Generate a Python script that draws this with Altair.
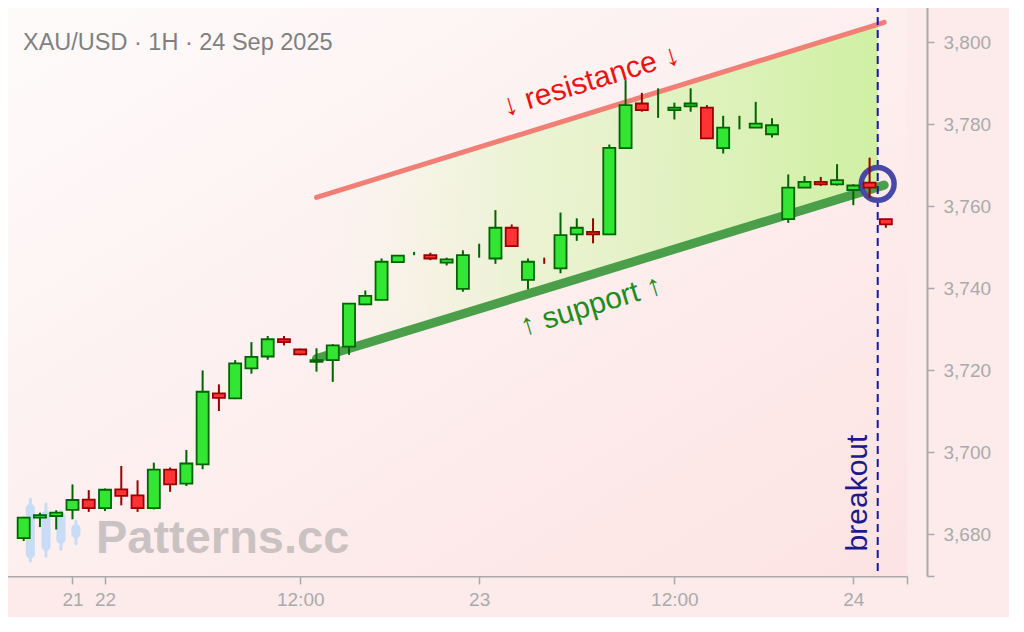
import altair as alt
import pandas as pd

# ---------------- data ----------------
idx = list(range(54))
opens = [3679.0, 3684.0, 3684.4, 3685.9, 3688.4, 3686.3, 3690.9, 3689.4, 3686.3, 3695.7,
         3692.3, 3697.0, 3714.3, 3713.1, 3720.4, 3723.3, 3727.5, 3725.0, 3722.0, 3722.4,
         3725.7, 3736.0, 3737.1, 3746.3, 3748.4, 3748.0, 3746.2, 3739.8, 3749.0, 3747.2,
         3754.7, 3742.0, 3746.7, 3744.8, 3753.1, 3753.7, 3753.1, 3774.1, 3785.0, 3784.7,
         3783.4, 3784.3, 3784.0, 3774.1, 3780.2, 3779.1, 3777.5, 3756.8, 3764.5, 3765.9,
         3765.3, 3763.9, 3765.7, 3756.8]
highs = [3684.2, 3685.2, 3685.8, 3692.1, 3690.7, 3691.1, 3696.6, 3693.1, 3697.4, 3696.2,
         3700.5, 3719.9, 3716.5, 3722.4, 3726.8, 3728.3, 3728.3, 3725.2, 3725.3, 3726.3,
         3736.3, 3739.4, 3747.2, 3748.0, 3748.8, 3748.6, 3747.4, 3749.2, 3750.8, 3759.0,
         3755.5, 3747.2, 3747.4, 3758.4, 3757.0, 3757.0, 3775.0, 3790.7, 3787.6, 3788.7,
         3785.2, 3788.7, 3784.6, 3782.0, 3782.0, 3785.4, 3781.4, 3767.7, 3767.3, 3767.1,
         3770.2, 3765.3, 3771.8, 3756.8]
lows = [3678.3, 3681.7, 3681.1, 3683.6, 3685.4, 3685.6, 3687.0, 3685.4, 3686.0, 3690.3,
        3691.7, 3695.8, 3710.0, 3712.9, 3719.1, 3722.5, 3726.0, 3723.6, 3719.6, 3717.1,
        3723.7, 3735.8, 3737.0, 3746.2, 3748.0, 3746.8, 3745.5, 3739.1, 3747.4, 3745.9,
        3750.2, 3739.7, 3745.9, 3743.6, 3751.5, 3750.9, 3753.1, 3774.1, 3783.0, 3781.5,
        3781.1, 3783.0, 3776.3, 3772.8, 3778.7, 3779.1, 3776.7, 3755.9, 3764.5, 3764.9,
        3765.0, 3760.2, 3762.0, 3754.7]
closes = [3684.0, 3684.6, 3685.2, 3688.3, 3686.3, 3690.8, 3689.3, 3686.3, 3695.7, 3692.1,
          3697.2, 3714.7, 3713.2, 3721.6, 3723.2, 3727.5, 3726.8, 3723.8, 3722.4, 3726.0,
          3736.2, 3738.1, 3746.4, 3747.9, 3748.4, 3747.2, 3747.0, 3748.0, 3749.0, 3754.7,
          3750.2, 3746.4, 3746.6, 3752.9, 3754.7, 3753.1, 3774.2, 3784.6, 3783.4, 3784.7,
          3784.0, 3785.0, 3776.5, 3779.1, 3780.2, 3780.1, 3779.7, 3764.5, 3765.9, 3765.3,
          3766.3, 3765.0, 3764.5, 3755.5]

# x-axis tick positions (bar index) and their labels
xtick_vals = [3, 5, 17, 28, 40, 51]
xtick_labels = ["21", "22", "12:00", "23", "12:00", "24"]
x_domain = [-1.21, 54.3]
y_domain = [3669.76, 3809.27]
ytick_vals = [3680, 3700, 3720, 3740, 3760, 3780, 3800]

# trend lines (bar index, price)
res_i = [18, 52.9]
res_p = [3762.1, 3804.8]
sup_i = [18, 52.9]
sup_p = [3722.8, 3765.1]
chan_i = [18, 52.5]
chan_top = [3762.1, 3804.3]
chan_bot = [3722.8, 3764.6]

breakout_i = [52.5]
circle_i = [52.5]
circle_p = [3765.4]

# watermark icon candles
icon_i = [0.41, 1.37, 2.29, 3.21]
icon_hi = [3688.5, 3687.3, 3685.6, 3683.2]
icon_lo = [3673.4, 3674.6, 3676.3, 3677.6]
icon_bt = [3687.3, 3685.6, 3685.1, 3682.4]
icon_bb = [3674.1, 3675.9, 3677.6, 3679.0]

title_text = ["XAU/USD · 1H · 24 Sep 2025"]
res_label = ["↓ resistance ↓"]
res_label_pos = [34.87, 3790.5]
sup_label = ["↑ support ↑"]
sup_label_pos = [34.87, 3735.6]
brk_label = ["breakout"]
brk_label_pos = [51.28, 3690.0]
wm_label = ["Patterns.cc"]
wm_label_pos = [4.44, 3675.4]

# ---------------- chart ----------------
df = pd.DataFrame({"i": idx, "o": opens, "h": highs, "l": lows, "c": closes})

FONT = "Liberation Sans"
xscale = alt.Scale(domain=x_domain, nice=False, zero=False)
yscale = alt.Scale(domain=y_domain, nice=False, zero=False)

label_expr = " : ".join(f"datum.value == {v} ? '{l}'" for v, l in zip(xtick_vals, xtick_labels)) + " : ''"
xaxis = alt.Axis(values=[x_domain[0]] + xtick_vals + [x_domain[1]], labelExpr=label_expr,
                 grid=False, title=None, domainColor="#aaaaaa", domainWidth=2,
                 tickColor="#aaaaaa", tickWidth=1.5, tickSize=8, labelColor="#aaaaaa",
                 labelFontSize=19, labelPadding=6, labelOverlap=False, labelFlush=False,
                 labelFont=FONT)
yaxis = alt.Axis(orient="right", offset=20, values=[y_domain[0]] + ytick_vals + [y_domain[1]],
                 format=",.0f",
                 labelExpr="datum.value < 3675 || datum.value > 3805 ? '' : datum.label",
                 grid=True, gridColor="#dddddd", gridWidth=1.5,
                 gridOpacity={"condition": {"test": "datum.value < 3675 || datum.value > 3805", "value": 0}, "value": 1},
                 title=None, domainColor="#aaaaaa", domainWidth=2, tickColor="#aaaaaa",
                 tickWidth=1.5, tickSize=7, labelColor="#aaaaaa", labelFontSize=19,
                 labelPadding=9, labelFont=FONT)


def X(f):
    return alt.X(f, type="quantitative", scale=xscale, axis=xaxis)


def Y(f):
    return alt.Y(f, type="quantitative", scale=yscale, axis=yaxis)


one = pd.DataFrame({"k": [0]})

bg = alt.Chart(one).mark_rect(
    fill=alt.LinearGradient(gradient="linear", x1=0, y1=0, x2=1, y2=1,
                            stops=[alt.GradientStop(offset=0, color="#fefbfb"),
                                   alt.GradientStop(offset=1, color="#fde3e3")])
).encode(x=alt.value(0), x2=alt.value(903), y=alt.value(0), y2=alt.value(572))

chan_df = pd.DataFrame({"i": chan_i, "top": chan_top, "bot": chan_bot})
channel = alt.Chart(chan_df).mark_area(
    fill=alt.LinearGradient(gradient="linear", x1=0, y1=0, x2=1, y2=0,
                            stops=[alt.GradientStop(offset=0, color="rgba(235,248,215,0.0)"),
                                   alt.GradientStop(offset=0.35, color="rgba(225,245,195,0.6)"),
                                   alt.GradientStop(offset=1, color="rgba(205,240,158,0.95)")])
).encode(x=X("i"), y=Y("top"), y2="bot")

icon_df = pd.DataFrame({"i": icon_i, "hi": icon_hi, "lo": icon_lo, "bt": icon_bt, "bb": icon_bb})
icon_w = alt.Chart(icon_df).mark_rule(color="#c8dcf5", strokeWidth=3, strokeCap="round").encode(
    x=X("i"), y=Y("lo"), y2="hi")
icon_b = alt.Chart(icon_df).transform_calculate(x1="datum.i - 0.28", x2="datum.i + 0.28").mark_rect(
    color="#c8dcf5", cornerRadius=4).encode(x=X("x1"), x2="x2", y=Y("bb"), y2="bt")

wm = alt.Chart(pd.DataFrame({"i": [wm_label_pos[0]], "p": [wm_label_pos[1]], "t": wm_label})).mark_text(
    align="left", baseline="alphabetic", fontSize=47, fontWeight="bold", font=FONT,
    color="#999999", opacity=0.5).encode(x=X("i"), y=Y("p"), text="t")

res = alt.Chart(pd.DataFrame({"i": res_i, "p": res_p})).mark_line(
    color="#f27f76", strokeWidth=5, strokeCap="round").encode(x=X("i"), y=Y("p"))
sup = alt.Chart(pd.DataFrame({"i": sup_i, "p": sup_p})).mark_line(
    color="#4b9f4b", strokeWidth=9, strokeCap="round").encode(x=X("i"), y=Y("p"))

brk_rule = alt.Chart(pd.DataFrame({"i": breakout_i})).mark_rule(
    color="#1a1a9c", strokeWidth=2, strokeDash=[8, 5]).encode(x=X("i"))

circ = alt.Chart(pd.DataFrame({"i": circle_i, "p": circle_p})).mark_point(
    shape="circle", size=1075, filled=False, strokeWidth=5.5, color="#4848a8", opacity=1).encode(
    x=X("i"), y=Y("p"))

up = "datum.c >= datum.o"
wicks = alt.Chart(df).mark_rule(strokeWidth=2).encode(
    x=X("i"), y=Y("l"), y2="h",
    color=alt.condition(up, alt.value("#006400"), alt.value("#990000")))
bodies = alt.Chart(df).transform_filter("abs(datum.c - datum.o) >= 0.2").transform_calculate(
    x1="datum.i - 0.37", x2="datum.i + 0.37").mark_rect(strokeWidth=1.8).encode(
    x=X("x1"), x2="x2", y=Y("o"), y2="c",
    fill=alt.condition(up, alt.value("#33e633"), alt.value("#ff3333")),
    stroke=alt.condition(up, alt.value("#006400"), alt.value("#990000")))

res_txt = alt.Chart(pd.DataFrame({"i": [res_label_pos[0]], "p": [res_label_pos[1]], "t": res_label})).mark_text(
    angle=343, fontSize=30, font=FONT, color="#ee1111", align="center", baseline="middle").encode(
    x=X("i"), y=Y("p"), text="t")
sup_txt = alt.Chart(pd.DataFrame({"i": [sup_label_pos[0]], "p": [sup_label_pos[1]], "t": sup_label})).mark_text(
    angle=343, fontSize=30, font=FONT, color="#1e8c1e", align="center", baseline="middle").encode(
    x=X("i"), y=Y("p"), text="t")
brk_txt = alt.Chart(pd.DataFrame({"i": [brk_label_pos[0]], "p": [brk_label_pos[1]], "t": brk_label})).mark_text(
    angle=270, fontSize=30, font=FONT, color="#1a1a8c", align="center", baseline="middle").encode(
    x=X("i"), y=Y("p"), text="t")

title = alt.Chart(pd.DataFrame({"t": title_text})).mark_text(
    align="left", baseline="alphabetic", fontSize=23.5, font=FONT, color="#808080").encode(
    x=alt.value(19), y=alt.value(46), text="t")

chart = alt.layer(
    bg, channel, icon_w, icon_b, wm, res, sup, brk_rule, circ, wicks, bodies,
    res_txt, sup_txt, brk_txt, title
).properties(
    width=903, height=572,
    padding={"left": -5, "top": -5, "right": 18, "bottom": 8},
    background="#fdeaea"
).configure_view(strokeWidth=0)

chart.save("out.html", embed_options={"renderer": "svg", "actions": False})
